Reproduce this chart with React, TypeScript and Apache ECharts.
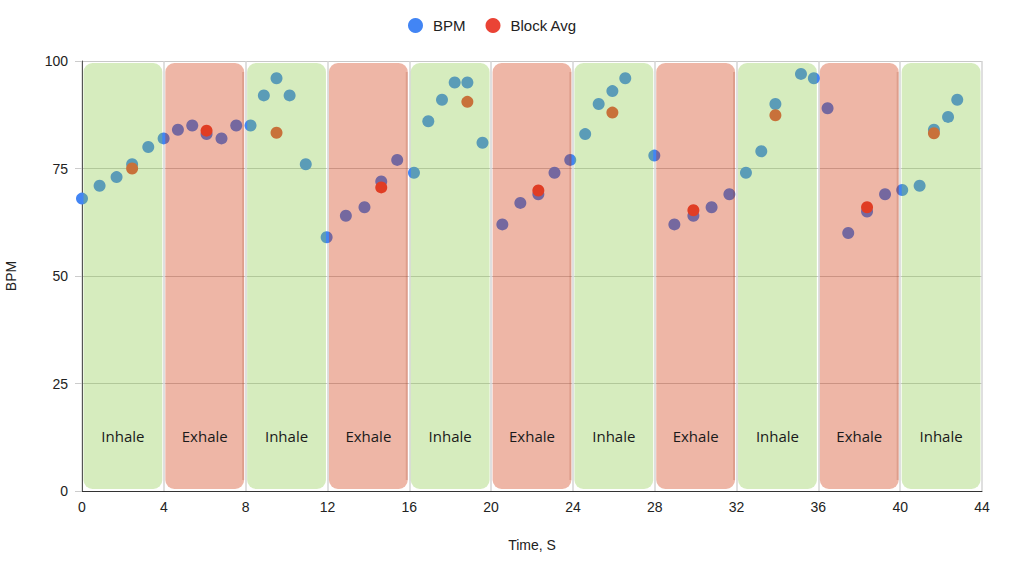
import React, { useEffect, useRef } from "react";
import * as echarts from "echarts";

const bpmTimes = [0, 0.86, 1.69, 2.45, 3.24, 3.99, 4.69, 5.39, 6.09, 6.82, 7.54, 8.24, 8.89, 9.51, 10.15, 10.94, 11.96, 12.9, 13.81, 14.63, 15.41, 16.23, 16.93, 17.6, 18.22, 18.84, 19.58, 20.55, 21.43, 22.31, 23.1, 23.87, 24.6, 25.26, 25.93, 26.56, 27.98, 28.96, 29.89, 30.78, 31.65, 32.46, 33.21, 33.9, 35.15, 35.78, 36.45, 37.46, 38.38, 39.26, 40.1, 40.95, 41.65, 42.34, 42.79];
const bpmValues = [68, 71, 73, 76, 80, 82, 84, 85, 83, 82, 85, 85, 92, 96, 92, 76, 59, 64, 66, 72, 77, 74, 86, 91, 95, 95, 81, 62, 67, 69, 74, 77, 83, 90, 93, 96, 78, 62, 64, 66, 69, 74, 79, 90, 97, 96, 89, 60, 65, 69, 70, 71, 84, 87, 91];

const avgTimes = [2.45, 6.09, 9.51, 14.63, 18.84, 22.31, 25.93, 29.89, 33.9, 38.38, 41.65];
const avgValues = [75, 83.8, 83.3, 70.6, 90.5, 69.9, 88, 65.3, 87.4, 66, 83.2];

const blockStarts = [0, 4, 8, 12, 16, 20, 24, 28, 32, 36, 40];
const blockEnds = [4, 8, 12, 16, 20, 24, 28, 32, 36, 40, 44];
const blockLabels = ["Inhale", "Exhale", "Inhale", "Exhale", "Inhale", "Exhale", "Inhale", "Exhale", "Inhale", "Exhale", "Inhale"];

const xTicks = { min: 0, max: 44, interval: 4 };
const yTicks = { min: 0, max: 100, interval: 25 };
const labelLevel = 12.8;

const GREEN = "rgba(138,200,69,0.35)";
const RED = "rgba(209,52,9,0.36)";
const RED_EDGE = "rgba(150,50,20,0.18)";

export default function App() {
  const ref = useRef<HTMLDivElement>(null);
  useEffect(() => {
    if (!ref.current) return;
    const chart = echarts.init(ref.current, undefined, { renderer: "svg" });
    const font = "'Liberation Sans', Arial, sans-serif";
    const option: any = {
      animation: false,
      textStyle: { fontFamily: font },
      legend: {
        top: 13,
        left: 403,
        icon: "circle",
        itemWidth: 15,
        itemHeight: 15,
        itemGap: 20,
        textStyle: { fontSize: 15, color: "#222", fontFamily: font, padding: [0, 0, 0, 5] },
        data: ["BPM", "Block Avg"],
      },
      grid: { left: 82, right: 42, top: 61, bottom: 73, containLabel: false, outerBoundsMode: "none" },
      xAxis: {
        type: "value",
        min: xTicks.min,
        max: xTicks.max,
        interval: xTicks.interval,
        name: "Time, S",
        nameLocation: "middle",
        nameGap: 47,
        nameTextStyle: { fontSize: 14, color: "#222", fontFamily: font },
        axisLine: { show: true, onZero: false, lineStyle: { color: "#333", width: 1 } },
        axisTick: { show: false },
        axisLabel: { fontSize: 14, color: "#222", margin: 9, fontFamily: font },
        splitLine: { show: true, lineStyle: { color: "#d4d4d4", width: 1.5 } },
      },
      yAxis: {
        type: "value",
        min: yTicks.min,
        max: yTicks.max,
        interval: yTicks.interval,
        name: "BPM",
        nameLocation: "middle",
        nameGap: 64,
        nameTextStyle: { fontSize: 14, color: "#222", fontFamily: font },
        axisLine: { show: true, lineStyle: { color: "#555", width: 1 } },
        axisTick: { show: true, length: 7, lineStyle: { color: "#ccc" } },
        axisLabel: { fontSize: 14, color: "#222", margin: 14, fontFamily: font },
        splitLine: { show: true, lineStyle: { color: "#c8c8c8", width: 1 } },
      },
      series: [
        {
          name: "BPM",
          type: "scatter",
          symbolSize: 12,
          z: 2,
          itemStyle: { color: "#4285F4", opacity: 1 },
          data: bpmTimes.map((t, i) => [t, bpmValues[i]]),
        },
        {
          name: "Block Avg",
          type: "scatter",
          symbolSize: 12,
          z: 2,
          itemStyle: { color: "#EA4335", opacity: 1 },
          data: avgTimes.map((t, i) => [t, avgValues[i]]),
        },
        {
          name: "blocks",
          type: "custom",
          z: 5,
          silent: true,
          clip: false,
          data: blockStarts.map((s, i) => [s, blockEnds[i]]),
          renderItem: (params: any, api: any) => {
            const i = params.dataIndex;
            const s = blockStarts[i];
            const e = blockEnds[i];
            const p0 = api.coord([s, yTicks.max]);
            const p1 = api.coord([e, yTicks.min]);
            const isRed = blockLabels[i] === "Exhale";
            const c = api.coord([(s + e) / 2, labelLevel]);
            const x = p0[0] + 1.5;
            const y = p0[1] + 2;
            const w = p1[0] - p0[0] - 3;
            const h = p1[1] - p0[1] - 4;
            const children: any[] = [
              {
                type: "rect",
                shape: { x, y, width: w, height: h, r: 9 },
                style: { fill: isRed ? RED : GREEN },
              },
            ];
            if (isRed) {
              children.push({
                type: "rect",
                shape: { x: x + w - 2, y: y + 9, width: 2, height: h - 18 },
                style: { fill: RED_EDGE },
              });
            }
            children.push({
              type: "text",
              x: c[0],
              y: c[1],
              style: {
                text: blockLabels[i],
                align: "center",
                verticalAlign: "middle",
                fontSize: 15,
                fill: "#1a1a1a",
                fontFamily: "'Open Sans', 'Noto Sans', sans-serif",
              },
            });
            return { type: "group", children };
          },
        },
      ],
    };
    chart.setOption(option);
    return () => chart.dispose();
  }, []);
  return (
    <div
      ref={ref}
      style={{ position: "fixed", left: 0, top: 0, width: 1024, height: 564, background: "#fff" }}
    />
  );
}
